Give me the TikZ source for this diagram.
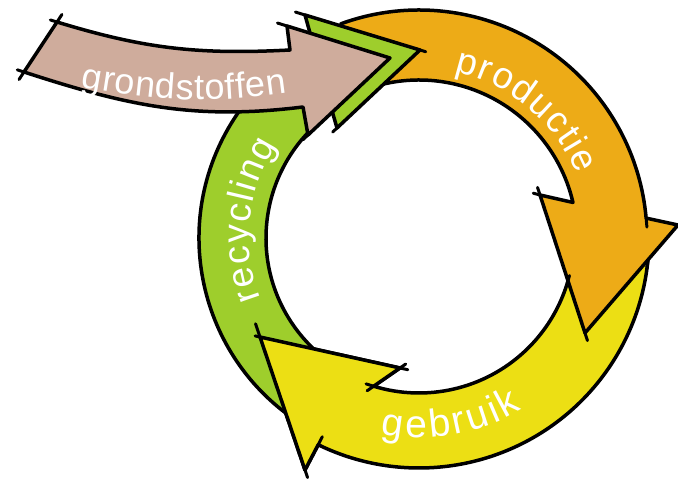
\documentclass[tikz,border=0pt]{standalone}
\usepackage{fontspec}
\setmainfont{Liberation Sans}
\usetikzlibrary{calc, decorations.text}

\definecolor{grondbruin}{RGB}{207,172,156}
\definecolor{recyclegroen}{RGB}{158,206,44}
\definecolor{productieoranje}{RGB}{237,171,23}
\definecolor{gebruikgeel}{RGB}{236,223,20}

\tikzset{
    pijl/.style = {draw = black, line width = 3.5pt, line join = round},
    streep/.style = {black, line width = 3pt, line cap = round},
    woord/.style = {decorate, decoration = {text along path, text align = fit to path, text color = white, text = {#1}}}
}

\begin{document}
\begin{tikzpicture}[x = 1pt, y = 1pt]
    \path[use as bounding box] (0, 0) rectangle (678, 481);

    \begin{scope}[shift = {(419, 243)}]
        % gebruik
        \coordinate (geb_notch_in) at (-107:155);
        \coordinate (geb_notch_out) at (-116:230);
        \coordinate (geb_barb_in) at (-19, -130);
        \coordinate (geb_barb_out) at (-114, -232);
        \coordinate (geb_tip) at (-159, -99);

        % productie
        \coordinate (prod_notch_in) at (13:158);
        \coordinate (prod_notch_out) at (5:228);
        \coordinate (prod_barb_in) at (121, 43);
        \coordinate (prod_barb_out) at (259, 13);
        \coordinate (prod_tip) at (166, -95);

        % recycling
        \coordinate (rec_notch_in) at (124.5:153);
        \coordinate (rec_barb_in) at (-82, 110);
        \coordinate (rec_barb_out) at (-114, 223);
        \coordinate (rec_tip) at (1, 188);

        % grondstoffen
        \coordinate (grond_tail_top) at (-362, 216);
        \coordinate (grond_tail_bottom) at (-395, 166);
        \coordinate (grond_notch_top) at (-129, 188);
        \coordinate (grond_notch_bottom) at (-116, 131);
        \coordinate (grond_barb_top) at (-132, 212);
        \coordinate (grond_barb_bottom) at (-111, 103);
        \coordinate (grond_tip) at (-29, 180);

        \filldraw[pijl, fill = gebruikgeel] (-3:155) -- (-3:230) arc[start angle = -3, end angle = -116, radius = 230pt] -- (geb_barb_out) -- (geb_tip) -- (geb_barb_in) -- (geb_notch_in) arc[start angle = -107, end angle = -3, radius = 155pt] -- cycle;

        \filldraw[pijl, fill = productieoranje] (110:158) -- (110:228) arc[start angle = 110, end angle = 5, radius = 228pt] -- (prod_barb_out) -- (prod_tip) -- (prod_barb_in) -- (prod_notch_in) arc[start angle = 13, end angle = 110, radius = 158pt] -- cycle;

        \filldraw[pijl, fill = recyclegroen] (240:153) -- (240:220) arc[start angle = 240, end angle = 118.7, radius = 220pt] -- (rec_barb_out) -- (rec_tip) -- (rec_barb_in) -- (rec_notch_in) arc[start angle = 124.5, end angle = 240, radius = 153pt] -- cycle;

        \filldraw[pijl, fill = grondbruin] (grond_tail_bottom) -- (grond_tail_top) to[out = -17, in = 183] (grond_notch_top) -- (grond_barb_top) -- (grond_tip) -- (grond_barb_bottom) -- (grond_notch_bottom) to[out = 187, in = -18] (grond_tail_bottom) -- cycle;

        % head of gebruik lies over the tail of recycling
        \fill[gebruikgeel] (geb_notch_out) -- (geb_barb_out) -- (geb_tip) -- (geb_barb_in) -- (geb_notch_in) -- cycle;
        \draw[pijl] (geb_notch_out) -- (geb_barb_out) -- (geb_tip) -- (geb_barb_in) -- (geb_notch_in);

        % words
        \path[woord = {|\fontsize{36}{36}\selectfont|grondstoffen}] (-338, 151) to[out = -10, in = 188] (-132, 145);
        \path[woord = {|\fontsize{37}{37}\selectfont|productie}] (78:170) arc[start angle = 78, end angle = 22, radius = 170pt];
        \path[woord = {|\fontsize{37}{37}\selectfont|recycling}] (201:170) arc[start angle = 201, end angle = 147, radius = 170pt];
        \path[woord = {|\fontsize{39}{39}\selectfont|gebruik}] (-101:200) arc[start angle = -101, end angle = -59, radius = 200pt];

        % sketchy overshoots
        \draw[streep] (grond_tail_top) -- ++(56.6:9);
        \draw[streep] (grond_tail_top) -- ++(163:7);
        \draw[streep] (grond_tail_bottom) -- ++(236.6:9);
        \draw[streep] (grond_tail_bottom) -- ++(162:7);
        \draw[streep] (grond_barb_top) -- ++(162.7:10);
        \draw[streep] (grond_barb_bottom) -- ++(223:7);
        \draw[streep] (rec_barb_out) -- ++(163:10);
        \draw[streep] (rec_tip) -- ++(-17:6);
        \draw[streep] (rec_barb_in) -- ++(223:6);
        \draw[streep] (prod_barb_in) -- ++(108:8);
        \draw[streep] (prod_barb_in) -- ++(165:7);
        \draw[streep] (prod_notch_out) -- ++(-85:9);
        \draw[streep] (prod_tip) -- ++(-72:8);
        \draw[streep] (-16.6:155) -- ++(73.4:7);
        \draw[streep] (-7.6:230) -- ++(82.4:7);
        \draw[streep] (geb_tip) -- ++(108.7:14);
        \draw[streep] (geb_tip) -- ++(167.5:5);
        \draw[streep] (geb_barb_in) -- ++(-12.5:8);
        \draw[streep] (geb_barb_in) -- ++(34.7:7);
        \draw[streep] (geb_notch_in) -- ++(163:8);
        \draw[streep] (geb_notch_in) -- ++(214.7:8);
        \draw[streep] (geb_notch_out) -- ++(62.5:9);
        \draw[streep] (geb_barb_out) -- ++(-71.3:8);
    \end{scope}
\end{tikzpicture}
\end{document}
